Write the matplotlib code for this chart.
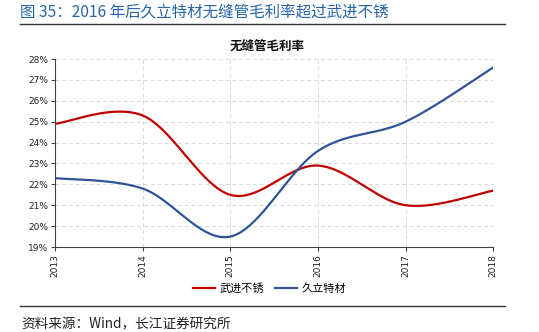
import numpy as np
import matplotlib
matplotlib.use("Agg")
import matplotlib.pyplot as plt
from matplotlib.lines import Line2D

plt.rcParams['font.family'] = ['Noto Sans CJK SC', 'DejaVu Sans']

years = [2013, 2014, 2015, 2016, 2017, 2018]
wujin = [24.9, 25.3, 21.5, 22.9, 21.0, 21.7]
jiuli = [22.3, 21.8, 19.5, 23.6, 25.0, 27.6]
series_names = ["武进不锈", "久立特材"]
colors = ["#C00000", "#2F5597"]


def smooth(x, y, n=40):
    x = np.asarray(x, float)
    y = np.asarray(y, float)
    xs, ys = [], []
    N = len(x)
    for i in range(N - 1):
        p0 = np.array([x[max(i - 1, 0)], y[max(i - 1, 0)]])
        p1 = np.array([x[i], y[i]])
        p2 = np.array([x[i + 1], y[i + 1]])
        p3 = np.array([x[min(i + 2, N - 1)], y[min(i + 2, N - 1)]])
        c1 = p1 + (p2 - p0) / 6.0
        c2 = p2 - (p3 - p1) / 6.0
        t = np.linspace(0, 1, n)[:, None]
        pts = ((1 - t) ** 3) * p1 + 3 * ((1 - t) ** 2) * t * c1 + 3 * (1 - t) * t ** 2 * c2 + t ** 3 * p2
        xs.extend(pts[:, 0])
        ys.extend(pts[:, 1])
    return np.array(xs), np.array(ys)


fig = plt.figure(figsize=(5.39, 3.32), dpi=100)
ax = fig.add_axes([0.102, 0.256, 0.813, 0.566])

for vals, c in zip([wujin, jiuli], colors):
    sx, sy = smooth(years, vals)
    ax.plot(sx, sy, color=c, lw=1.6, solid_capstyle='round')

ax.set_xlim(2013, 2018)
ax.set_ylim(19, 28)
ax.set_yticks(range(19, 29))
ax.set_yticklabels([f"{v}%" for v in range(19, 29)], fontsize=6.5, family='DejaVu Sans')
ax.set_xticks(years)
ax.set_xticklabels([str(y) for y in years], rotation=90, fontsize=6.5, family='DejaVu Sans')
ax.grid(True, color='#D9D9D9', linestyle=(0, (4, 3)), lw=0.7)
ax.set_axisbelow(True)
for s in ['top', 'right']:
    ax.spines[s].set_visible(False)
for s in ['left', 'bottom']:
    ax.spines[s].set_color('#404040')
    ax.spines[s].set_linewidth(0.8)
ax.tick_params(axis='both', length=3, width=0.8, color='#404040', pad=2, labelcolor='#222222')

fig.text(0.495, 0.862, "无缝管毛利率", fontsize=9, fontweight='bold', color='#111111',
         ha='center', va='center')

handles = [Line2D([0], [0], color=c, lw=1.6) for c in colors]
fig.legend(handles, series_names, loc='center', bbox_to_anchor=(0.5, 0.132), ncol=2,
           frameon=False, fontsize=8, handlelength=2.0, columnspacing=1.0, handletextpad=0.4)

fig.text(0.037, 0.96, "图 35：2016 年后久立特材无缝管毛利率超过武进不锈", fontsize=11.2,
         color='#2565A8', ha='left', va='center')
fig.add_artist(Line2D([0.037, 0.937], [0.927, 0.927], color='#333333', lw=1.0))
fig.add_artist(Line2D([0.037, 0.937], [0.079, 0.079], color='#333333', lw=1.0))
fig.text(0.04, 0.024, "资料来源：Wind，长江证券研究所", fontsize=9.8, color='#222222', ha='left', va='center')

fig.savefig("out.png", dpi=100)
